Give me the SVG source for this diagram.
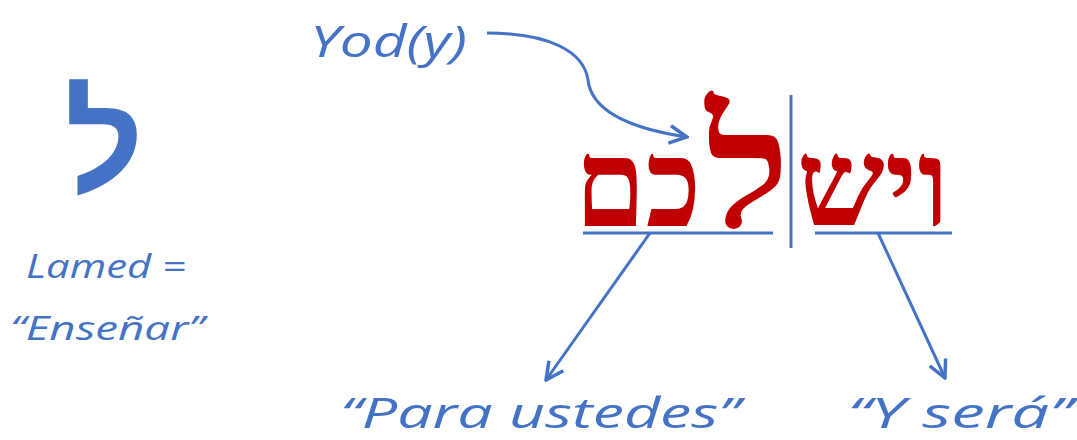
<svg xmlns="http://www.w3.org/2000/svg" width="1077" height="440" viewBox="0 0 1077 440">
<style>
.lbl{font-family:"Open Sans","DejaVu Sans",sans-serif;fill:#4472C4;font-style:italic}
.heb{font-family:"Liberation Serif","DejaVu Serif",serif;fill:#C00000;font-weight:bold}
.ln{stroke:#4472C4;stroke-width:3;fill:none}
</style>
<defs>
<marker id="ah" viewBox="0 0 12 12" refX="11" refY="6" markerWidth="7" markerHeight="7" orient="auto" markerUnits="strokeWidth">
<path d="M1,1 L11,6 L1,11" fill="none" stroke="#4472C4" stroke-width="2"/>
</marker>
</defs>
<g id="lamed-big">
<text x="104" y="192" font-family="Liberation Sans, DejaVu Sans, sans-serif" font-weight="bold" font-size="138" fill="#4472C4" text-anchor="middle">ל</text>
</g>
<g id="lamed-label">
<text class="lbl" x="106" y="278" font-size="32" text-anchor="middle" textLength="160" lengthAdjust="spacingAndGlyphs">Lamed =</text>
<text class="lbl" x="107" y="340" font-size="32" text-anchor="middle" textLength="194" lengthAdjust="spacingAndGlyphs">“Enseñar”</text>
</g>
<g id="yod">
<text class="lbl" x="310" y="57" font-size="44" textLength="157" lengthAdjust="spacingAndGlyphs">Yod(y)</text>
</g>
<g id="word-left">
<text class="heb" x="638" y="226" font-size="122" text-anchor="middle" textLength="126" lengthAdjust="spacingAndGlyphs">כם</text>
<text class="heb" x="748" y="227" font-size="166" text-anchor="middle" textLength="84" lengthAdjust="spacingAndGlyphs">ל</text>
</g>
<g id="word-right">
<text class="heb" x="873" y="226" font-size="122" text-anchor="middle" textLength="153" lengthAdjust="spacingAndGlyphs">ויש</text>
</g>
<g id="para">
<text class="lbl" x="540" y="428" font-size="42" text-anchor="middle" textLength="400" lengthAdjust="spacingAndGlyphs">“Para ustedes”</text>
</g>
<g id="sera">
<text class="lbl" x="960" y="428" font-size="42" text-anchor="middle" textLength="225" lengthAdjust="spacingAndGlyphs">“Y será”</text>
</g>
<g id="connectors">
<path class="ln" d="M487,33 C550,33 584,52 588,80 C592,115 640,130 687,137" marker-end="url(#ah)"/>
<line class="ln" x1="583" y1="233" x2="773" y2="233"/>
<line class="ln" x1="815" y1="233" x2="952" y2="233"/>
<line class="ln" x1="791" y1="95" x2="791" y2="248"/>
<line class="ln" x1="650" y1="233" x2="546" y2="380" marker-end="url(#ah)"/>
<line class="ln" x1="878" y1="233" x2="945" y2="378" marker-end="url(#ah)"/>
</g>
</svg>
